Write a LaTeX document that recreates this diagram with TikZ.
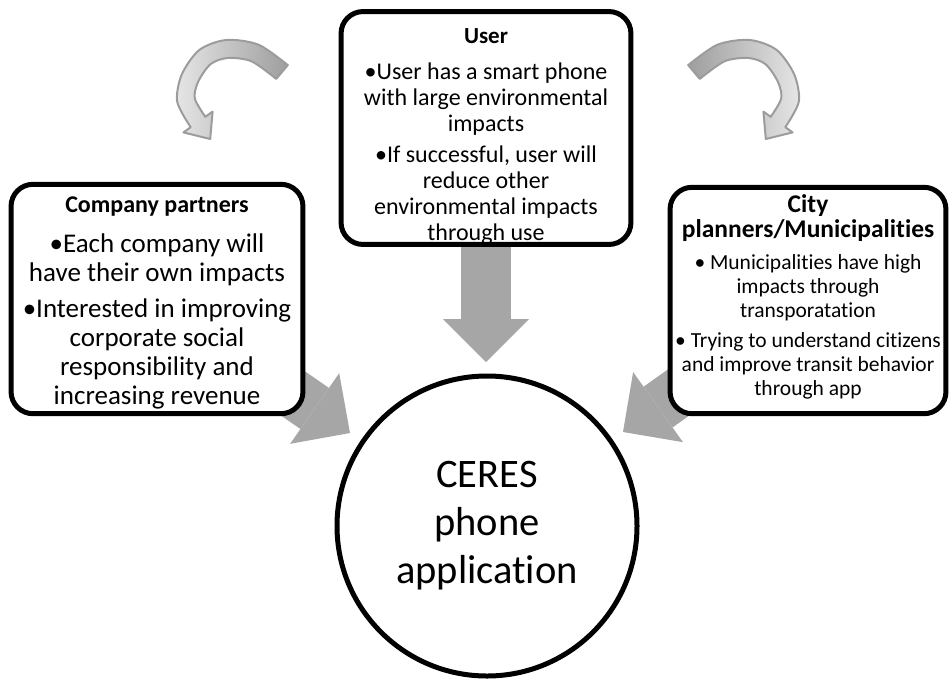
\documentclass[tikz,border=0pt]{standalone}
\usepackage{fontspec}
\setmainfont{Carlito}[Ligatures=NoCommon]
\usetikzlibrary{arrows.meta}
\pgfdeclarelayer{background}
\pgfsetlayers{background,main}
\definecolor{blockgray}{HTML}{A6A6A6}
\definecolor{curveline}{HTML}{9C9C9C}
\newcommand\mytightlines{\lineskiplimit=-50pt\relax}
\begin{document}
\begin{tikzpicture}[x=1pt,y=-1pt,
  boxfill/.style={fill=white, inner sep=0pt},
  boxline/.style={draw=black, line width=5pt, rounded corners=22pt},
  boxtext/.style={anchor=north, align=center, inner sep=0pt},
  blockarrow/.style={draw=blockgray, line width=#1,
    -{Triangle[length=43pt,width=86pt,line width=0pt]}},
  curvearrow/.style={draw=curveline, line width=2pt, line join=round}
]
\useasboundingbox (0,0) rectangle (952,681);

% boxes (fill)
\node[boxfill, rounded corners=22pt, minimum width=289.5pt, minimum height=232.5pt] (user) at (486,128) {};
\node[boxfill, rounded corners=22pt, minimum width=291.5pt, minimum height=229pt] (company) at (157,299) {};
\node[boxfill, rounded corners=22pt, minimum width=275.5pt, minimum height=226pt] (city) at (808,300.5) {};
\node[draw=black, line width=5pt, circle, fill=white, minimum size=300pt, inner sep=0pt,
      align=center, font=\fontsize{40.5}{48}\selectfont] (ceres) at (487,526)
      {CERES\\phone\\application};

% texts
\node[boxtext, font={\fontsize{24}{26}\selectfont\mytightlines}] (usert) at (486,28.5)
  {{\bfseries\fontsize{23}{25}\selectfont User}\\[10pt]
   •User has a smart phone\\ with large environmental\\ impacts\\[5pt]
   •If successful, user will\\ reduce other\\ environmental impacts\\ through use};
\node[boxtext, font={\fontsize{27}{29}\selectfont\mytightlines}] (companyt) at (157,196.8)
  {{\bfseries\fontsize{24}{26}\selectfont Company partners}\\[11pt]
   •Each company will\\ have their own impacts\\[7pt]
   •Interested in improving\\ corporate social\\ responsibility and\\ increasing revenue};
\node[boxtext, font={\fontsize{21.5}{24}\selectfont\mytightlines}] (cityt) at (808,194.6)
  {{\bfseries\fontsize{25.5}{26}\selectfont City}\\[1pt]
   {\bfseries\fontsize{25.5}{26}\selectfont planners/Municipalities}\\[8pt]
   • Municipalities have high\\ impacts through\\ transporatation\\[6pt]
   • Trying to understand citizens\\ and improve transit behavior\\ through app};

% box borders (over the text)
\draw[boxline] (user.south west) rectangle (user.north east);
\draw[boxline] (company.south west) rectangle (company.north east);
\draw[boxline] (city.south west) rectangle (city.north east);

% block arrows (behind)
\coordinate (utip) at (486,362);
\coordinate (ctip) at (350,433);
\coordinate (mtip) at (623,432);
\begin{pgfonlayer}{background}
  \draw[blockarrow=50pt] (user.center) -- (utip);
  \draw[blockarrow=50pt] (company.center) -- (ctip);
  \draw[blockarrow=50pt] (city.center) -- (mtip);
\end{pgfonlayer}

% curved arrows
\draw[curvearrow, left color=black!10, right color=black!38]
  plot[smooth] coordinates {(287.8,65.1) (258.5,44.7) (226.3,40) (199.4,49.9) (181.8,74.4) (177.2,101.6) (190.7,127.2)}
  -- (183.4,132.4) -- (210.2,139) -- (212.6,111.6)
  -- plot[smooth] coordinates {(205.3,116.8) (194.8,98.4) (198.2,81.6) (210.6,64.1) (227.7,58) (251.5,61.3) (276.2,78.9)}
  -- cycle;
\draw[curvearrow, left color=black!38, right color=black!10]
  plot[smooth] coordinates {(688.2,65.1) (717.5,44.7) (749.7,40) (776.6,49.9) (794.2,74.4) (798.8,101.6) (785.3,127.2)}
  -- (792.6,132.4) -- (765.8,139) -- (763.4,111.6)
  -- plot[smooth] coordinates {(770.7,116.8) (781.2,98.4) (777.8,81.6) (765.4,64.1) (748.3,58) (724.5,61.3) (699.8,78.9)}
  -- cycle;
\end{tikzpicture}
\end{document}
